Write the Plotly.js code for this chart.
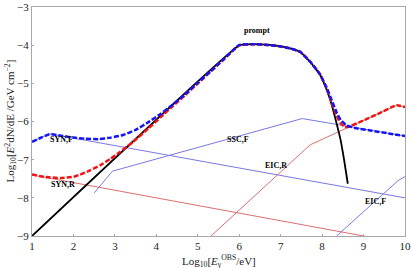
<!DOCTYPE html>
<html>
<head>
<meta charset="utf-8">
<script src="https://cdn.plot.ly/plotly-3.0.1.min.js"></script>
<style>html,body{margin:0;padding:0;background:#fff;}#chart{width:411px;height:268px;}</style>
</head>
<body>
<div id="chart"></div>
<script>
// Prompt emission (black)
const promptX = [1, 6, 6.3, 6.72, 7.0, 7.23, 7.47, 7.71, 7.95, 8.11, 8.23, 8.35, 8.45, 8.53, 8.62];
const promptY = [-9, -4.0, -3.97, -3.99, -4.03, -4.08, -4.17, -4.43, -4.77, -5.16, -5.55, -6.05, -6.5, -7.0, -7.63];

// Total, forward shock (blue dashed)
const totalFX = [1, 1.2, 1.42, 1.7, 2.0, 2.3, 2.6, 2.9, 3.2, 3.5, 3.8, 4.1, 4.4, 4.7, 5.0, 5.3, 5.6, 6, 6.3, 6.72, 7.0, 7.23, 7.47, 7.71, 7.95, 8.11, 8.23, 8.35, 8.45, 8.59, 8.8, 9.2, 9.6, 10];
const totalFY = [-6.53, -6.43, -6.33, -6.37, -6.42, -6.45, -6.46, -6.42, -6.35, -6.22, -6.02, -5.8, -5.55, -5.28, -4.98, -4.69, -4.39, -3.99, -3.97, -3.99, -4.03, -4.08, -4.17, -4.43, -4.76, -5.11, -5.43, -5.76, -5.96, -6.1, -6.17, -6.24, -6.31, -6.38];

// Total, reverse shock (red dashed)
const totalRX = [1, 1.3, 1.68, 2.0, 2.16, 2.4, 2.64, 2.9, 3.12, 3.44, 3.8, 4.1, 4.4, 4.7, 5.0, 5.5, 6, 6.3, 6.72, 7.0, 7.23, 7.47, 7.71, 7.95, 8.11, 8.23, 8.35, 8.45, 8.55, 8.63, 9.0, 9.4, 9.8, 10];
const totalRY = [-7.39, -7.45, -7.48, -7.45, -7.39, -7.28, -7.15, -6.97, -6.8, -6.53, -6.19, -5.89, -5.59, -5.3, -5.0, -4.5, -4.0, -3.97, -3.99, -4.03, -4.08, -4.17, -4.42, -4.76, -5.14, -5.49, -5.85, -6.05, -6.14, -6.14, -5.97, -5.77, -5.57, -5.62];

// Components
const synFX = [1, 1.42, 10];
const synFY = [-6.53, -6.32, -8.0];
const synRX = [1, 10];
const synRY = [-7.4, -9.2];
const sscFX = [2.5, 2.94, 7.52, 10];
const sscFY = [-7.87, -7.3, -5.92, -6.38];
const eicRX = [5.32, 7.71, 9.8, 10];
const eicRY = [-9.0, -6.61, -5.57, -5.62];
const eicFX = [8.35, 9.83, 10];
const eicFY = [-9.0, -7.55, -7.44];

// Labels
const labelText = ["prompt", "SYN,F", "SYN,R", "SSC,F", "EIC,R", "EIC,F"];
const labelX = [6.42, 1.72, 1.75, 5.98, 6.89, 9.3];
const labelY = [-3.6, -6.48, -7.65, -6.48, -7.16, -8.09];

const xTicks = [1, 2, 3, 4, 5, 6, 7, 8, 9, 10];
const yTicks = [-9, -8, -7, -6, -5, -4, -3];

const thinBlue = 'rgb(120,120,228)';
const thinRed = 'rgb(218,110,110)';

const traces = [
  {x: synFX, y: synFY, mode: 'lines', line: {color: thinBlue, width: 1}},
  {x: synRX, y: synRY, mode: 'lines', line: {color: thinRed, width: 1}},
  {x: sscFX, y: sscFY, mode: 'lines', line: {color: thinBlue, width: 1}},
  {x: eicRX, y: eicRY, mode: 'lines', line: {color: thinRed, width: 1}},
  {x: eicFX, y: eicFY, mode: 'lines', line: {color: thinBlue, width: 1}},
  {x: promptX, y: promptY, mode: 'lines', line: {color: 'black', width: 1.8, shape: 'spline', smoothing: 0.3}},
  {x: totalRX, y: totalRY, mode: 'lines', line: {color: 'rgb(240,20,20)', width: 2.5, dash: '5px,2px', shape: 'spline', smoothing: 0.3}},
  {x: totalFX, y: totalFY, mode: 'lines', line: {color: 'rgb(20,20,245)', width: 2.5, dash: '5px,2px', shape: 'spline', smoothing: 0.3}}
];

const serif = 'Liberation Serif';
const annotations = labelText.map((t, i) => ({
  x: labelX[i], y: labelY[i], xref: 'x', yref: 'y', text: '<b>' + t + '</b>',
  showarrow: false, font: {family: serif, size: 8, color: 'black'}
}));
annotations.push({
  x: 0.5, y: 0, xref: 'paper', yref: 'paper', yanchor: 'top', yshift: -15,
  text: 'Log<sub>10</sub>[<i>E</i><sub>γ</sub><sup>OBS</sup>/eV]', showarrow: false,
  font: {family: serif, size: 11, color: '#222'}
});
annotations.push({
  x: 0, y: 0.5, xref: 'paper', yref: 'paper', xanchor: 'center', xshift: -22, textangle: -90,
  text: 'Log<sub>10</sub>[<i>E</i><sup>2</sup>dN/dE /GeV cm<sup>−2</sup>]', showarrow: false,
  font: {family: serif, size: 11, color: '#222'}
});

const axisCommon = {
  showgrid: false, zeroline: false, showline: true, mirror: true,
  linecolor: '#a8a8a8', linewidth: 1, ticks: 'inside', ticklen: 2,
  tickcolor: '#a8a8a8', tickfont: {family: serif, size: 11, color: '#222'}
};

const layout = {
  width: 411, height: 268,
  margin: {l: 32, r: 6, t: 7, b: 32},
  paper_bgcolor: 'white', plot_bgcolor: 'white',
  showlegend: false,
  xaxis: Object.assign({}, axisCommon, {range: [1, 10], tickvals: xTicks}),
  yaxis: Object.assign({}, axisCommon, {range: [-9, -2.995], tickvals: yTicks}),
  annotations: annotations
};

Plotly.newPlot('chart', traces, layout, {staticPlot: true, displayModeBar: false});
</script>
</body>
</html>
